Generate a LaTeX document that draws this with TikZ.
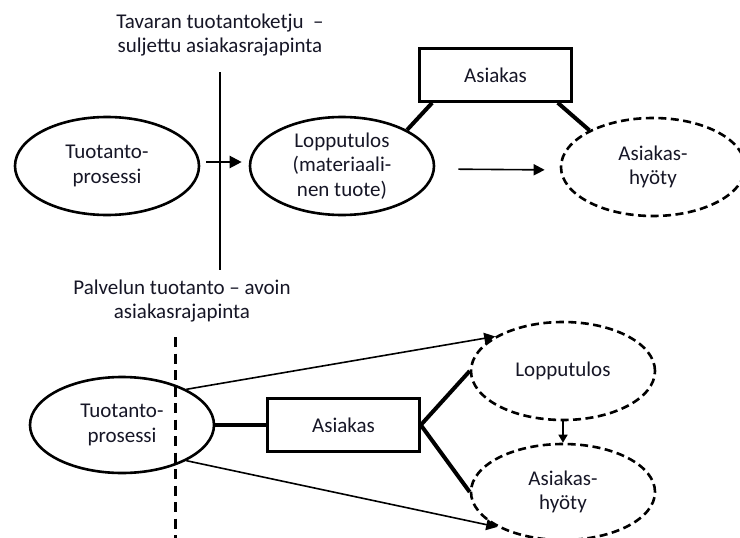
\documentclass[tikz,border=0pt]{standalone}
\usepackage{fontspec}
\setmainfont{Carlito}
\usetikzlibrary{shapes.geometric,arrows.meta}
\definecolor{ink}{RGB}{22,22,38}
\newcommand\labelfont{\fontsize{21}{24.5}\selectfont}
\tikzset{
  lbl/.style={font=\labelfont, text=ink, align=center, inner sep=0pt},
  oval/.style={ellipse, draw, line width=2.6pt, minimum width=184pt, minimum height=98pt,
               inner sep=0pt, font=\labelfont, text=ink, align=center},
  dashoval/.style={oval, dash pattern=on 8pt off 4.5pt},
  custbox/.style={rectangle, draw, line width=2.6pt, minimum width=152pt, minimum height=53pt,
                  inner sep=0pt, font=\labelfont, text=ink},
  link/.style={line width=4pt},
  flow/.style={line width=1.6pt, -{Triangle[length=11pt,width=11pt]}},
  flowbig/.style={line width=2.2pt, -{Triangle[length=12pt,width=12pt]}},
}
\begin{document}
\begin{tikzpicture}[x=1pt,y=-1pt]
\clip (0,0) rectangle (740,538);
\fill[white] (0,0) rectangle (740,538);

% --- goods production: closed customer interface ---
\node[lbl] (t1) at (220,35) {Tavaran tuotantoketju \ –\\suljettu asiakasrajapinta};
\coordinate (b1top) at (220,72);
\coordinate (b1bot) at (220,270);
\draw[line width=2.6pt] (b1top) -- (b1bot);

\node[oval] (tuo1) at (107,166) {Tuotanto-\\prosessi};
\node[oval] (lop1) at (342,166) {Lopputulos\\(materiaali-\\nen tuote)};
\node[dashoval] (hyo1) at (653,167) {Asiakas-\\hyöty};
\node[custbox] (asi1) at (495.5,75) {Asiakas};

\draw[flowbig, shorten <=6pt, shorten >=7pt] ([yshift=4pt]tuo1.east) -- ([yshift=4pt]lop1.west);
\draw[flow, shorten <=23pt, shorten >=15pt] ([yshift=-3pt]lop1.east) -- ([yshift=-3pt]hyo1.west);
\draw[link] ([xshift=14pt]asi1.south west) -- (lop1.29);
\draw[link] ([xshift=-15pt]asi1.south east) -- (hyo1.150);

% --- service production: open customer interface ---
\node[lbl] (t2) at (182,301) {Palvelun tuotanto – avoin\\asiakasrajapinta};
\coordinate (b2top) at (175,337);
\coordinate (b2bot) at (175,540);
\draw[line width=3pt, dash pattern=on 10pt off 6.5pt] (b2top) -- (b2bot);

\node[oval, minimum height=96pt] (tuo2) at (122,425) {Tuotanto-\\prosessi};
\node[custbox] (asi2) at (343.5,425) {Asiakas};
\node[dashoval] (lop2) at (563,371) {Lopputulos};
\node[dashoval, minimum height=96pt] (hyo2) at (563,492) {Asiakas-\\hyöty};

\draw[link] (tuo2.east) -- (asi2.west);
\draw[link] (asi2.east) -- (lop2.west);
\draw[link] (asi2.east) -- (hyo2.west);
\draw[flow] (tuo2.29) -- (lop2.153);
\draw[flow] (tuo2.-29) -- (hyo2.-152);
\draw[line width=1.6pt, -{Triangle[length=8pt,width=9pt]}] (lop2.south) -- (hyo2.north);
\end{tikzpicture}
\end{document}
